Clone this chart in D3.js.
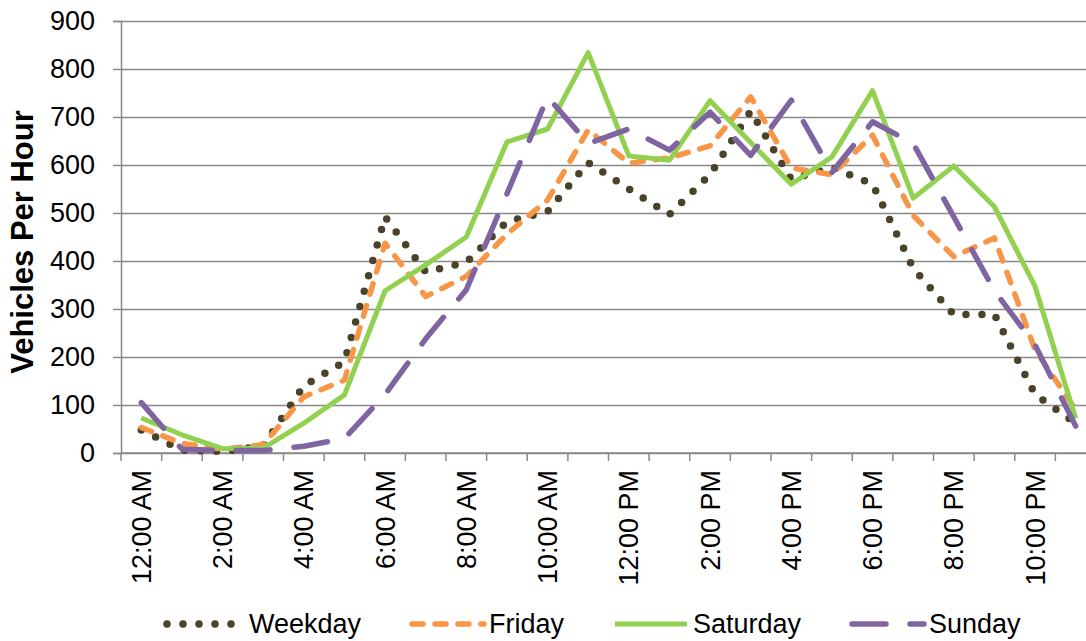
<!DOCTYPE html>
<html>
<head>
<meta charset="utf-8">
<script src="https://cdn.jsdelivr.net/npm/d3@7"></script>
<style>
  body { margin: 0; background: #fff; }
  text { font-family: "Liberation Sans", Arial, sans-serif; fill: #000; }
</style>
</head>
<body>
<div id="chart"></div>
<script>
// hours of the day (0 = 12:00 AM)
var hours = d3.range(0, 24);
var hourLabels = ["12:00 AM","1:00 AM","2:00 AM","3:00 AM","4:00 AM","5:00 AM","6:00 AM","7:00 AM",
  "8:00 AM","9:00 AM","10:00 AM","11:00 AM","12:00 PM","1:00 PM","2:00 PM","3:00 PM",
  "4:00 PM","5:00 PM","6:00 PM","7:00 PM","8:00 PM","9:00 PM","10:00 PM","11:00 PM"];
var yTicks = [0,100,200,300,400,500,600,700,800,900];

// vehicles per hour
var weekday  = [48, 6, 3, 15, 140, 190, 492, 377, 397, 482, 503, 605, 550, 497, 580, 712, 570, 595, 560, 385, 288, 289, 122, 62];
var friday   = [53, 20, 8, 17, 117, 152, 437, 326, 368, 456, 527, 673, 604, 615, 640, 742, 594, 580, 662, 495, 409, 448, 215, 90];
var saturday = [73, 38, 9, 10, 62, 121, 338, 392, 450, 648, 675, 834, 619, 610, 734, 647, 560, 617, 755, 531, 598, 513, 347, 72];
var sunday   = [105, 8, 5, 5, 14, 30, 122, 238, 340, 540, 742, 645, 675, 631, 710, 620, 735, 585, 690, 645, 492, 338, 225, 56];

var seriesNames = ["Weekday", "Friday", "Saturday", "Sunday"];

var series = [
  {name: seriesNames[0], values: weekday,  color: "#4a4329", width: 7.5, dash: "0,16",  legX: 167, textX: 249},
  {name: seriesNames[1], values: friday,   color: "#f79646", width: 5.5, dash: "11,12", legX: 412, textX: 489},
  {name: seriesNames[2], values: saturday, color: "#92d050", width: 5,   dash: null,    legX: 615, textX: 693},
  {name: seriesNames[3], values: sunday,   color: "#8064a2", width: 5.5, dash: "34,24", legX: 852, textX: 929}
];

var W = 1086, H = 641;
var margin = {top: 21, left: 121};
var width = 975, height = 432;

var svg = d3.select("#chart").append("svg")
    .attr("width", W)
    .attr("height", H);

var g = svg.append("g")
    .attr("transform", "translate(" + margin.left + "," + margin.top + ")");

var x = d3.scaleBand().domain(hours).range([0, width]);
var y = d3.scaleLinear().domain([0, 900]).range([height, 0]);
var cx = function(h) { return x(h) + x.bandwidth() / 2; };

// y axis with gridlines
var yAxis = g.append("g")
    .call(d3.axisLeft(y).tickValues(yTicks).tickSize(8).tickPadding(18));
yAxis.select(".domain").attr("stroke", "#898989").attr("stroke-width", 1.5);
yAxis.selectAll(".tick line")
    .attr("x1", -8).attr("x2", width)
    .attr("stroke", "#898989").attr("stroke-width", 1.5);
yAxis.selectAll(".tick text")
    .style("font-size", "27px")
    .style("font-family", "'Liberation Sans', Arial, sans-serif");

// x axis: ticks at the band edges
g.append("line")
    .attr("x1", 0).attr("x2", width)
    .attr("y1", height).attr("y2", height)
    .attr("stroke", "#898989").attr("stroke-width", 1.5);
g.selectAll(".xtick")
    .data(d3.range(0, 25))
    .enter().append("line")
    .attr("x1", function(i) { return i * x.step(); })
    .attr("x2", function(i) { return i * x.step(); })
    .attr("y1", height).attr("y2", height + 8)
    .attr("stroke", "#898989").attr("stroke-width", 1.5);

g.selectAll(".xlabel")
    .data(hours.filter(function(h) { return h % 2 === 0; }))
    .enter().append("text")
    .attr("transform", function(h) { return "translate(" + cx(h) + "," + (height + 17) + ") rotate(-90)"; })
    .attr("dy", "0.35em")
    .attr("text-anchor", "end")
    .style("font-size", "27px")
    .text(function(h) { return hourLabels[h]; });

// y title
svg.append("text")
    .attr("transform", "translate(33,242) rotate(-90)")
    .attr("text-anchor", "middle")
    .style("font-size", "31px")
    .style("font-weight", "bold")
    .text("Vehicles Per Hour");

// lines
var line = d3.line()
    .x(function(d, i) { return cx(hours[i]); })
    .y(function(d) { return y(d); });

series.forEach(function(s) {
  g.append("path")
    .datum(s.values)
    .attr("d", line)
    .attr("fill", "none")
    .attr("stroke", s.color)
    .attr("stroke-width", s.width)
    .attr("stroke-linecap", s.dash ? "round" : "butt")
    .attr("stroke-linejoin", "round")
    .attr("stroke-dasharray", s.dash);
});

// legend
var leg = svg.append("g");
series.forEach(function(s) {
  leg.append("line")
    .attr("x1", s.legX).attr("x2", s.legX + 72)
    .attr("y1", 624).attr("y2", 624)
    .attr("stroke", s.color)
    .attr("stroke-width", s.width)
    .attr("stroke-linecap", s.dash ? "round" : "butt")
    .attr("stroke-dasharray", s.dash);
  leg.append("text")
    .attr("x", s.textX).attr("y", 633)
    .style("font-size", "27px")
    .text(s.name);
});
</script>
</body>
</html>
